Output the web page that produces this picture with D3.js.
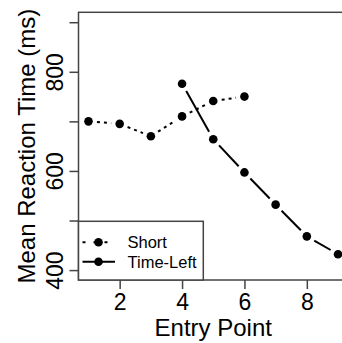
<!DOCTYPE html>
<html>
<head>
<meta charset="utf-8">
<script src="https://cdn.jsdelivr.net/npm/d3@7"></script>
<style>
  body { margin: 0; background: #fff; }
  svg { display: block; font-family: Arial, "Liberation Sans", sans-serif; }
</style>
</head>
<body>
<svg id="chart"></svg>
<script>
const entryShort = [1, 2, 3, 4, 5, 6];
const rtShort = [700, 695, 670, 710, 741, 750];
const entryTimeLeft = [4, 5, 6, 7, 8, 9];
const rtTimeLeft = [776, 664, 597, 532, 468, 432];
const xTicks = [2, 4, 6, 8];
const yTicks = [400, 500, 600, 700, 800, 900];
const yLabels = [400, 600, 800];

const width = 342, height = 343;
const plot = { left: 78.5, right: 348, top: 12.3, bottom: 280 };

const svg = d3.select("#chart")
    .attr("width", width)
    .attr("height", height);

const x = d3.scaleLinear().domain([0.68, 9.32]).range([plot.left, plot.right]);
const y = d3.scaleLinear().domain([380, 920]).range([plot.bottom, plot.top]);

const axisColor = "#444";

// box (right side falls outside the window)
svg.append("rect")
    .attr("x", plot.left)
    .attr("y", plot.top)
    .attr("width", plot.right - plot.left)
    .attr("height", plot.bottom - plot.top)
    .attr("fill", "none")
    .attr("stroke", axisColor)
    .attr("stroke-width", 1.5);

// x axis
const xAxis = svg.append("g")
    .attr("transform", `translate(0,${plot.bottom})`)
    .call(d3.axisBottom(x).tickValues(xTicks).tickSize(9).tickPadding(5));
xAxis.select(".domain").remove();
xAxis.selectAll("line").attr("stroke", axisColor).attr("stroke-width", 1.5);
xAxis.selectAll("text")
    .attr("fill", "#000")
    .style("font-size", "23px");

// y axis, labels rotated like R's default las=0
const yAxis = svg.append("g")
    .attr("transform", `translate(${plot.left},0)`)
    .call(d3.axisLeft(y).tickValues(yTicks).tickSize(9)
        .tickFormat(d => yLabels.includes(d) ? d : ""));
yAxis.select(".domain").remove();
yAxis.selectAll("line").attr("stroke", axisColor).attr("stroke-width", 1.5);
yAxis.selectAll("text")
    .attr("fill", "#000")
    .style("font-size", "23px")
    .attr("text-anchor", "middle")
    .attr("x", 0)
    .attr("y", 0)
    .attr("dy", 0)
    .attr("transform", "translate(-15.5,0) rotate(-90)");

// axis titles
svg.append("text")
    .attr("x", (plot.left + plot.right) / 2)
    .attr("y", 336)
    .attr("text-anchor", "middle")
    .style("font-size", "24px")
    .text("Entry Point");

svg.append("text")
    .attr("transform", `translate(35,${(plot.top + plot.bottom) / 2}) rotate(-90)`)
    .attr("text-anchor", "middle")
    .style("font-size", "24px")
    .text("Mean Reaction Time (ms)");

// lines drawn as in R type="b": gaps around each point
const gap = 8.5;
function segments(xs, ys) {
    const segs = [];
    for (let i = 0; i < xs.length - 1; i++) {
        const x0 = x(xs[i]), y0 = y(ys[i]), x1 = x(xs[i + 1]), y1 = y(ys[i + 1]);
        const len = Math.hypot(x1 - x0, y1 - y0);
        const ux = (x1 - x0) / len, uy = (y1 - y0) / len;
        segs.push([x0 + ux * gap, y0 + uy * gap, x1 - ux * gap, y1 - uy * gap]);
    }
    return segs;
}

function drawSeries(xs, ys, dash) {
    svg.append("g").selectAll("line")
        .data(segments(xs, ys))
        .join("line")
        .attr("x1", d => d[0]).attr("y1", d => d[1])
        .attr("x2", d => d[2]).attr("y2", d => d[3])
        .attr("stroke", "#000")
        .attr("stroke-width", 2)
        .attr("stroke-dasharray", dash);
    svg.append("g").selectAll("circle")
        .data(xs.map((d, i) => [d, ys[i]]))
        .join("circle")
        .attr("cx", d => x(d[0]))
        .attr("cy", d => y(d[1]))
        .attr("r", 4.3)
        .attr("fill", "#000");
}

drawSeries(entryShort, rtShort, "3,4");
drawSeries(entryTimeLeft, rtTimeLeft, null);

// legend
const legend = svg.append("g");
legend.append("rect")
    .attr("x", plot.left)
    .attr("y", 221.3)
    .attr("width", 203.3 - plot.left)
    .attr("height", plot.bottom - 221.3)
    .attr("fill", "#fff")
    .attr("stroke", axisColor)
    .attr("stroke-width", 1.5);

const legendItems = [
    { name: "Short", dash: "3,8", y: 242.3 },
    { name: "Time-Left", dash: null, y: 261.7 }
];
legendItems.forEach(item => {
    legend.append("line")
        .attr("x1", 82.5).attr("x2", 115)
        .attr("y1", item.y).attr("y2", item.y)
        .attr("stroke", "#000")
        .attr("stroke-width", 2)
        .attr("stroke-dasharray", item.dash);
    legend.append("circle")
        .attr("cx", 98.5).attr("cy", item.y).attr("r", 4.3)
        .attr("fill", "#000");
    legend.append("text")
        .attr("x", 127.5)
        .attr("y", item.y + 5.8)
        .style("font-size", "16.5px")
        .text(item.name);
});
</script>
</body>
</html>
